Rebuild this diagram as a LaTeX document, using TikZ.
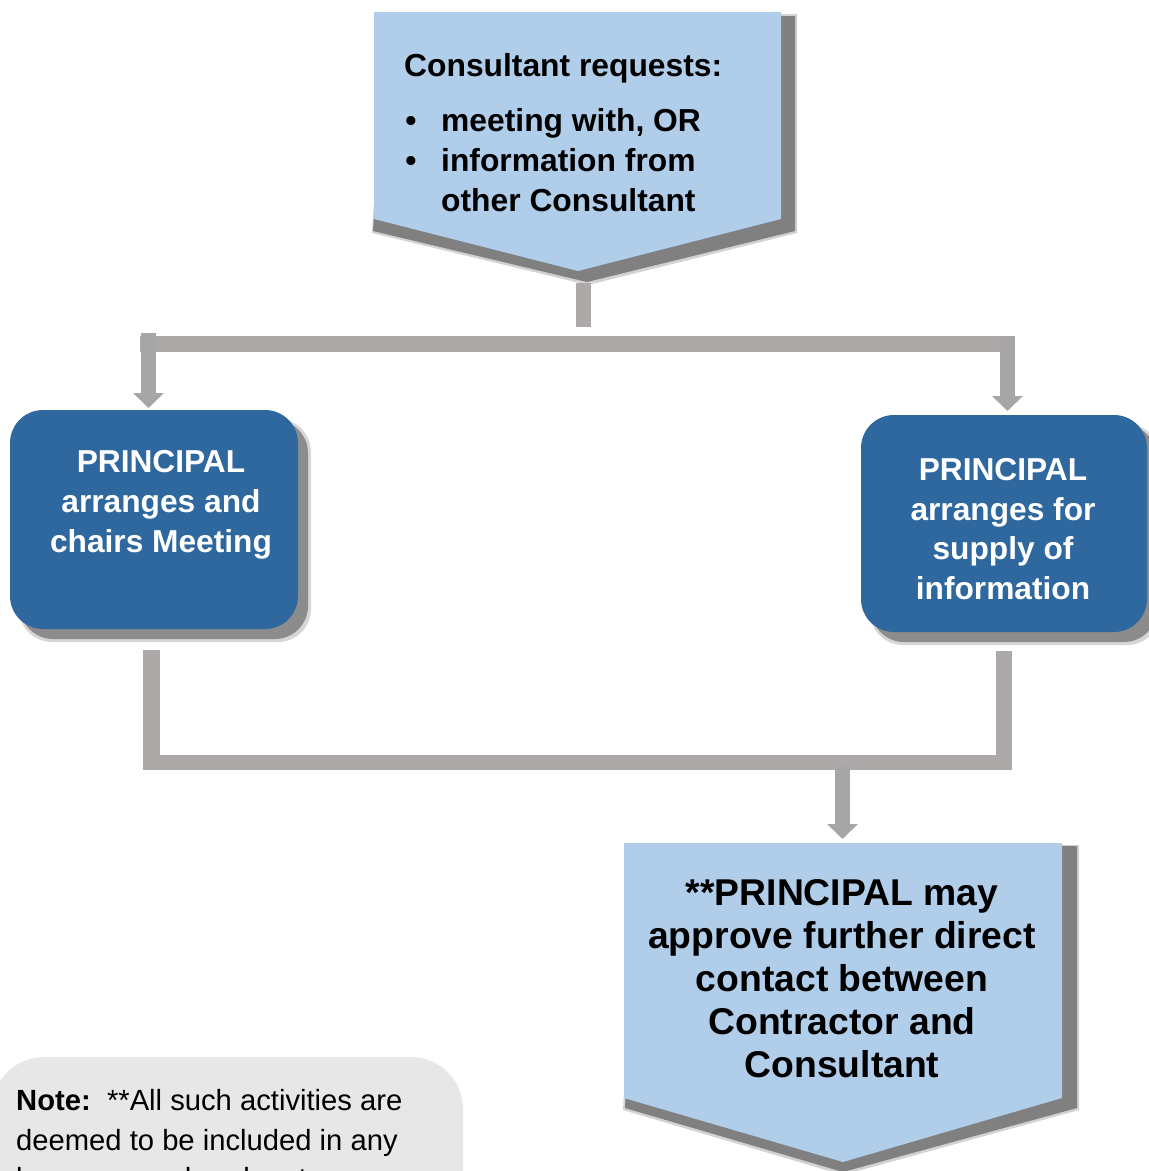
\documentclass[tikz,border=0pt]{standalone}
\usepackage{fontspec}
\setmainfont{Liberation Sans}
\usetikzlibrary{arrows.meta}
\definecolor{lightblue}{RGB}{176,205,233}
\definecolor{darkblue}{RGB}{46,104,158}
\definecolor{conn}{RGB}{173,169,169}
\definecolor{arrowgray}{RGB}{166,166,166}
\definecolor{shadowgray}{RGB}{128,128,128}
\definecolor{boxshadow}{RGB}{140,140,140}
\definecolor{notegray}{RGB}{231,231,231}
\begin{document}
\begin{tikzpicture}[x=1pt,y=-1pt,
  bar/.style={draw=conn, line width=16pt},
  arr/.style={draw=arrowgray, line width=15pt, -{Triangle[width=30pt,length=15pt]}},
  bluebox/.style={rectangle, rounded corners=33pt, fill=darkblue, inner sep=0pt},
  shbox/.style={rectangle, rounded corners=33pt, fill=boxshadow, inner sep=0pt},
  toptxt/.style={font=\fontsize{31.8}{40}\selectfont\bfseries, inner sep=0pt, anchor=base west},
  boxtxt/.style={font=\fontsize{31.7}{40}\selectfont\bfseries, text=white, inner sep=0pt, anchor=base},
  endtxt/.style={font=\fontsize{37.3}{43}\selectfont\bfseries, inner sep=0pt, anchor=base},
  notetxt/.style={font=\fontsize{29.2}{40}\selectfont, inner sep=0pt, anchor=base west}
]
\useasboundingbox (0,0) rectangle (1149,1171);
\clip (0,0) rectangle (1149,1171);
\fill[white] (0,0) rectangle (1149,1171);

% ---------- top pentagon ----------
\fill[shadowgray!70, opacity=.5] (386,14) -- (797,14) -- (797,233) -- (588,285) -- (372,233) -- cycle;
\fill[shadowgray] (386,16) -- (795,16) -- (795,231) -- (587,282) -- (373,231) -- cycle;
\fill[lightblue] (374,12) -- (781,12) -- (781,219) -- (578,271) -- (374,219) -- cycle;
\node[toptxt] (t0) at (404,76) {Consultant requests:};
\node[font=\fontsize{31.8}{40}\selectfont\bfseries, inner sep=0pt, anchor=base] (b1) at (411,131) {•};
\node[font=\fontsize{31.8}{40}\selectfont\bfseries, inner sep=0pt, anchor=base] (b2) at (411,171) {•};
\node[toptxt] (t1) at (441,131) {meeting with, OR};
\node[toptxt] (t2) at (441,171) {information from};
\node[toptxt] (t3) at (441,211) {other Consultant};

% ---------- left and right boxes ----------
\node[shbox, fill opacity=.35, minimum width=292pt, minimum height=223pt] (lsh2) at (165,530.5) {};
\node[shbox, minimum width=288pt, minimum height=219pt] (lsh) at (164,529.5) {};
\node[bluebox, minimum width=288pt, minimum height=219pt] (left) at (154,519.5) {};
\node[boxtxt] (l1) at (161,472) {PRINCIPAL};
\node[boxtxt] (l2) at (161,512) {arranges and};
\node[boxtxt] (l3) at (161,552) {chairs Meeting};

\node[shbox, fill opacity=.35, minimum width=290pt, minimum height=221pt] (rsh2) at (1015,534.5) {};
\node[shbox, minimum width=286pt, minimum height=217pt] (rsh) at (1014,533.5) {};
\node[bluebox, minimum width=286pt, minimum height=217pt] (right) at (1004,523.5) {};
\node[boxtxt] (r1) at (1003,480) {PRINCIPAL};
\node[boxtxt] (r2) at (1003,520) {arranges for};
\node[boxtxt] (r3) at (1003,559) {supply of};
\node[boxtxt] (r4) at (1003,599) {information};

% ---------- bottom pentagon ----------
\fill[shadowgray!70, opacity=.5] (638,845) -- (1079,845) -- (1079,1110) -- (843,1175) -- (623,1110) -- cycle;
\fill[shadowgray] (638,846) -- (1077,846) -- (1077,1108) -- (843,1172) -- (625,1108) -- cycle;
\fill[lightblue] (624,843) -- (1062,843) -- (1062,1098) -- (843,1162) -- (624,1098) -- cycle;
\node[endtxt] (e1) at (842,905) {**PRINCIPAL may};
\node[endtxt] (e2) at (842,948) {approve further direct};
\node[endtxt] (e3) at (842,991) {contact between};
\node[endtxt] (e4) at (842,1034) {Contractor and};
\node[endtxt] (e5) at (842,1077) {Consultant};

% ---------- note ----------
\fill[notegray, rounded corners=52pt] (-8,1057) rectangle (463,1280);
\node[notetxt] (n1) at (16,1110) {\textbf{Note:}\ \ **All such activities are};
\node[notetxt] (n2) at (16,1150) {deemed to be included in any};
\node[notetxt] (n3) at (16,1188) {lump sum or hourly rate};

% ---------- connector points ----------
\coordinate (topTip) at (583.5,283);
\coordinate (splitC) at (583.5,336);
\coordinate (splitL) at (140,344);
\coordinate (splitR) at (1015,344);
\coordinate (arrL0) at (148.5,333);
\coordinate (arrLtip) at (148.5,408);
\coordinate (arrR0) at (1007.5,336);
\coordinate (arrRtip) at (1007.5,411);
\coordinate (downL0) at (151.5,650);
\coordinate (downL1) at (151.5,770);
\coordinate (downR0) at (1004,651);
\coordinate (downR1) at (1004,770);
\coordinate (joinL) at (143,762.5);
\coordinate (joinR) at (1012,762.5);
\coordinate (arrB0) at (842.5,767);
\coordinate (arrBtip) at (842.5,839);

% ---------- connectors ----------
\draw[conn, line width=15pt] (topTip) -- (splitC |- 0,327);
\draw[bar] (splitL) -- (splitR);
\draw[arr] (arrL0) -- (arrLtip);
\draw[arr] (arrR0) -- (arrRtip);
\draw[conn, line width=17pt] (downL0) -- (downL1 |- 0,762);
\draw[conn, line width=16pt] (downR0) -- (downR1);
\draw[conn, line width=15pt] (joinL) -- (joinR);
\draw[arr] (arrB0) -- (arrBtip);
\end{tikzpicture}
\end{document}
